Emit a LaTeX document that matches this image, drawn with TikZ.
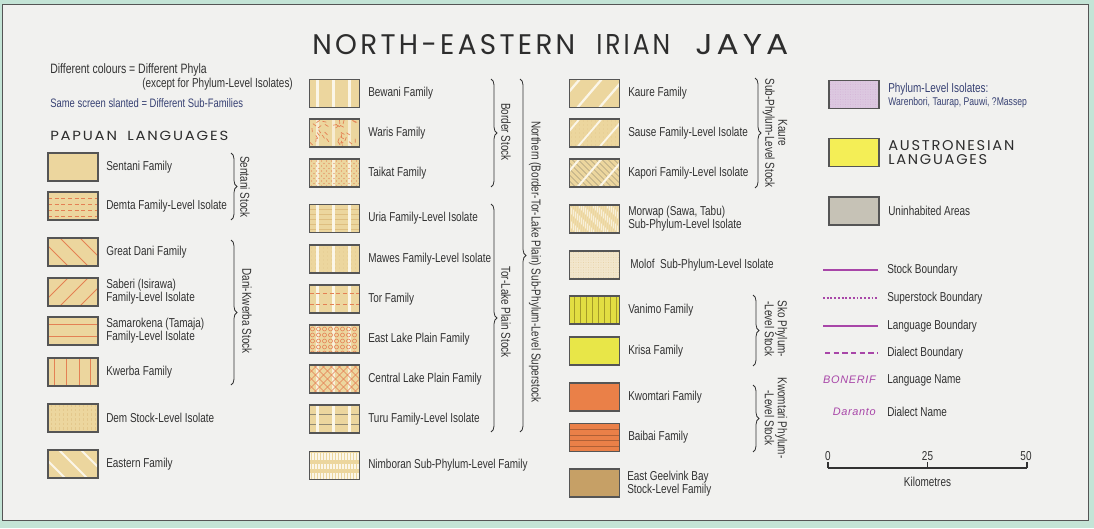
\documentclass[tikz,border=0pt]{standalone}
\usepackage{fontspec}
\setmainfont{Liberation Sans}[FakeStretch=0.77]
\newfontfamily\titlefont{Poppins}[LetterSpace=12]
\newfontfamily\namefont{Liberation Sans}[LetterSpace=6]
\usetikzlibrary{decorations.pathreplacing}
\definecolor{tanc}{RGB}{236,214,158}
\definecolor{orc}{RGB}{228,128,84}
\definecolor{stripec}{RGB}{251,246,232}
\definecolor{swline}{RGB}{85,85,85}
\definecolor{txtc}{RGB}{50,50,50}
\definecolor{titc}{RGB}{45,45,45}
\definecolor{bluet}{RGB}{55,65,115}
\definecolor{purp}{RGB}{168,70,168}
\definecolor{yelc}{RGB}{226,222,66}
\definecolor{yeltwo}{RGB}{232,230,72}
\definecolor{austc}{RGB}{244,238,86}
\definecolor{kwoc}{RGB}{234,128,72}
\definecolor{geelc}{RGB}{198,160,102}
\definecolor{lilac}{RGB}{220,200,224}
\definecolor{greyc}{RGB}{198,194,182}
\definecolor{molofc}{RGB}{242,230,204}
\definecolor{panelc}{RGB}{241,241,239}
\definecolor{bgteal}{RGB}{196,228,214}
\definecolor{olivec}{RGB}{165,155,40}
\definecolor{demc}{RGB}{222,190,128}
\newcommand\lbl{\fontsize{9.7}{9.75}\selectfont}
\newcommand\smlbl{\fontsize{8.4}{9}\selectfont}
\newcommand\vstr[1][stripec]{\foreach \sx in {8,24,40}{\draw[#1, line width=1.8pt] (\sx,0) -- (\sx,28);}}
% swatch: name, x, y, fill colour, pattern code (local px coords, origin top-left, y down)
\newcommand\swatch[5]{%
  \node[swbox, fill=#4] (#1) at (#2,#3) {};
  \begin{scope}
    \clip (#1.north west) rectangle (#1.south east);
    \begin{scope}[shift={(#1.north west)}]#5\end{scope}
  \end{scope}
  \draw[swline, line width=0.8pt] (#1.north west) rectangle (#1.south east);}
\tikzset{
  txt/.style={anchor=west, inner sep=0pt, text=txtc, font=\lbl, align=left},
  rot/.style={rotate=-90, inner sep=0pt, text=txtc, font=\lbl, align=center},
  swbox/.style={minimum width=37.5pt, minimum height=21pt, inner sep=0pt, outer sep=0pt, rectangle},
  brace/.style={decorate, decoration={brace, amplitude=4.5pt}, draw=txtc, line width=0.6pt},
  bline/.style={draw=purp},
  head/.style={anchor=base west, inner sep=0pt, text=titc},
}
\begin{document}
\begin{tikzpicture}[x=0.75pt,y=-0.75pt]
\useasboundingbox (0,0) rectangle (1094,528);
\fill[bgteal] (0,0) rectangle (1094,528);
\filldraw[fill=panelc, draw=swline, line width=0.6pt] (2,4) rectangle (1088,520);

% title
\node[head] (t1) at (312,55) {\resizebox{197.25pt}{15pt}{\titlefont NORTH-EASTERN}};
\node[head] (t2) at (596,55) {\resizebox{55.5pt}{15pt}{\titlefont IRIAN}};
\node[head] (t3) at (695,55) {\resizebox{69.75pt}{15pt}{\titlefont JAYA}};

% notes
\node[txt, font=\fontsize{10.2}{10}\selectfont] (n1) at (50,70) {Different colours = Different Phyla};
\node[txt] (n2) at (142,84) {(except for Phylum-Level Isolates)};
\node[txt, text=bluet, font=\fontsize{9.2}{9}\selectfont] (n3) at (50,103) {Same screen slanted = Different Sub-Families};
\node[head] (h1) at (50,140) {\resizebox{133.5pt}{7pt}{\titlefont PAPUAN\hspace{0.7em}LANGUAGES}};

% ---------- column 1 ----------
\swatch{s11}{73}{167}{tanc}{}
\swatch{s12}{73}{206}{tanc}{\foreach \yy in {6,12,18,24}{\draw[orc, line width=0.5pt, dash pattern=on 3pt off 2pt] (0,\yy) -- (50,\yy);}}
\swatch{s13}{73}{252}{tanc}{\foreach \xx in {-28,-8,12,32}{\draw[orc, line width=0.55pt] (\xx,0) -- ++(28,28);}}
\swatch{s14}{73}{292}{tanc}{\foreach \xx in {-28,-8,12,32}{\draw[orc, line width=0.55pt] (\xx,28) -- ++(28,-28);}}
\swatch{s15}{73}{331}{tanc}{\foreach \yy in {7,19}{\draw[orc, line width=0.55pt] (0,\yy) -- (50,\yy);}}
\swatch{s16}{73}{372}{tanc}{\foreach \xx in {6,18,31,42}{\draw[orc, line width=0.55pt] (\xx,0) -- (\xx,28);}}
\swatch{s17}{73}{418}{tanc}{\foreach \xx in {3,7,...,50}{\draw[demc!60!tanc, line width=0.3pt, dash pattern=on 2pt off 1.5pt] (\xx,0) -- (\xx,28);}}
\swatch{s18}{73}{464}{tanc}{\foreach \xx in {-33,-11,11,33}{\draw[stripec, line width=1.5pt] (\xx,0) -- ++(28,28);}}

\node[txt] (l11) at (106,167) {Sentani Family};
\node[txt] (l12) at (106,206) {Demta Family-Level Isolate};
\node[txt] (l13) at (106,252) {Great Dani Family};
\node[txt] (l14) at (106,292) {Saberi (Isirawa)\\Family-Level Isolate};
\node[txt] (l15) at (106,331) {Samarokena (Tamaja)\\Family-Level Isolate};
\node[txt] (l16) at (106,372) {Kwerba Family};
\node[txt] (l17) at (106,418) {Dem Stock-Level Isolate};
\node[txt] (l18) at (106,464) {Eastern Family};

\coordinate (b1a) at (231,153); \coordinate (b1b) at (231,220);
\coordinate (b2a) at (231,240); \coordinate (b2b) at (231,385);
\draw[brace] (b1a) -- (b1b);
\draw[brace] (b2a) -- (b2b);
\node[rot] (r1) at (245,187) {Sentani Stock};
\node[rot] (r2) at (247,311) {Dani-Kwerba Stock};

% ---------- column 2 ----------
\swatch{s21}{334.5}{93.5}{tanc}{\vstr}
\swatch{s22}{334.5}{133}{tanc}{\vstr[stripec!70!tanc]\pgfmathsetseed{11}\foreach \k in {1,...,34}{\pgfmathsetmacro\ax{rnd*50}\pgfmathsetmacro\ay{rnd*28}\pgfmathsetmacro\aa{rnd*180}\draw[orc, line width=0.5pt] (\ax,\ay) -- ++(\aa:4);}}
\swatch{s23}{334.5}{173}{tanc}{\vstr[stripec!80!tanc]\foreach \xx in {2,7,...,50}{\foreach \yy in {2,7,...,28}{\fill[orc] (\xx,\yy) circle (0.45pt);}}\foreach \xx in {4.5,9.5,...,50}{\foreach \yy in {4.5,9.5,...,28}{\fill[orc] (\xx,\yy) circle (0.45pt);}}}
\swatch{s24}{334.5}{218.5}{tanc}{\foreach \yy in {5,10,...,25}{\draw[demc, line width=0.3pt] (0,\yy) -- (50,\yy);}\vstr}
\swatch{s25}{334.5}{259}{tanc}{\foreach \xx in {2,6,...,50}{\foreach \yy in {3,7,...,28}{\fill[demc] (\xx,\yy) circle (0.35pt);}}\vstr}
\swatch{s26}{334.5}{299}{tanc}{\vstr\foreach \yy in {8,19}{\draw[orc, line width=0.5pt, dash pattern=on 3pt off 2pt] (0,\yy) -- (50,\yy);}}
\swatch{s27}{334.5}{339}{tanc}{\vstr[stripec!80!tanc]\foreach \xx in {3,9,...,50}{\foreach \yy in {4,10,...,28}{\draw[orc, line width=0.45pt] (\xx,\yy) circle (1.5pt);}}}
\swatch{s28}{334.5}{379}{tanc}{\vstr[stripec!80!tanc]\foreach \xx in {-28,-20,...,50}{\draw[orc, line width=0.45pt] (\xx,0) -- ++(28,28); \draw[orc, line width=0.45pt] (\xx,28) -- ++(28,-28);}}
\swatch{s29}{334.5}{419}{tanc}{\foreach \yy in {9,19}{\draw[swline!60!tanc, line width=0.4pt] (0,\yy) -- (50,\yy);}\vstr}
\swatch{s210}{334.5}{465.5}{tanc}{\foreach \ya/\yb in {1/8,12/17,21/27}{\fill[stripec] (0,\ya) rectangle (50,\yb); \foreach \xx in {1.5,4.5,...,50}{\draw[tanc, line width=0.3pt] (\xx,\ya) -- (\xx,\yb);}}}

\node[txt] (l21) at (368,93.5) {Bewani Family};
\node[txt] (l22) at (368,133) {Waris Family};
\node[txt] (l23) at (368,173) {Taikat Family};
\node[txt] (l24) at (368,218.5) {Uria Family-Level Isolate};
\node[txt] (l25) at (368,259) {Mawes Family-Level Isolate};
\node[txt] (l26) at (368,299) {Tor Family};
\node[txt] (l27) at (368,339) {East Lake Plain Family};
\node[txt] (l28) at (368,379) {Central Lake Plain Family};
\node[txt] (l29) at (368,419) {Turu Family-Level Isolate};
\node[txt] (l210) at (368,465.5) {Nimboran Sub-Phylum-Level Family};

\coordinate (b3a) at (491,79); \coordinate (b3b) at (491,187);
\coordinate (b4a) at (491,204); \coordinate (b4b) at (491,432);
\coordinate (b5a) at (520,79); \coordinate (b5b) at (520,432);
\draw[brace] (b3a) -- (b3b);
\draw[brace] (b4a) -- (b4b);
\draw[brace] (b5a) -- (b5b);
\node[rot] (r3) at (506,132) {Border Stock};
\node[rot] (r4) at (506,312) {Tor-Lake Plain Stock};
\node[rot] (r5) at (535,262) {Northern (Border-Tor-Lake Plain) Sub-Phylum-Level Superstock};

% ---------- column 3 ----------
\swatch{s31}{594.5}{93.5}{tanc}{\foreach \xx in {-14,8,30,52}{\draw[stripec, line width=1.7pt] (\xx,28) -- ++(24,-28);}}
\swatch{s32}{594.5}{133}{tanc}{\foreach \xx in {2,6,...,50}{\foreach \yy in {2,6,...,28}{\fill[demc] (\xx,\yy) circle (0.35pt);}}\foreach \xx in {-14,8,30,52}{\draw[stripec, line width=1.4pt] (\xx,28) -- ++(24,-28);}}
\swatch{s33}{594.5}{173}{tanc}{\foreach \xx in {-28,-22,...,50}{\draw[swline!45!tanc, line width=0.35pt] (\xx,0) -- ++(28,28);}\foreach \xx in {-14,8,30,52}{\draw[stripec, line width=1.5pt] (\xx,28) -- ++(24,-28);}}
\swatch{s34}{594.5}{219}{tanc}{\foreach \xx in {-32,-18,...,50}{\draw[stripec!80!tanc, line width=3.6pt] (\xx,0) -- ++(28,28);}\foreach \xx in {1,3,...,50}{\draw[tanc!85!white, line width=0.2pt] (\xx,0) -- (\xx,28);}}
\swatch{s35}{594.5}{265}{molofc}{\foreach \xx in {1.5,4,...,50}{\foreach \yy in {1.5,4,...,28}{\fill[demc!70!molofc] (\xx,\yy) circle (0.35pt);}}}
\swatch{s36}{594.5}{310}{yelc}{\foreach \xx in {5,11,...,50}{\draw[olivec, line width=0.45pt] (\xx,0) -- (\xx,28);}}
\swatch{s37}{594.5}{351}{yeltwo}{}
\swatch{s38}{594.5}{397}{kwoc}{}
\swatch{s39}{594.5}{437.5}{kwoc}{\foreach \yy in {6,11.5,17,22.5}{\draw[kwoc!75!black, line width=0.35pt] (0,\yy) -- (50,\yy);}}
\swatch{s310}{594.5}{483}{geelc}{}

\node[txt] (l31) at (628,93.5) {Kaure Family};
\node[txt] (l32) at (628,133) {Sause Family-Level Isolate};
\node[txt] (l33) at (628,173) {Kapori Family-Level Isolate};
\node[txt] (l34) at (628,219) {Morwap (Sawa, Tabu)\\Sub-Phylum-Level Isolate};
\node[txt] (l35) at (630,265) {Molof\ \ Sub-Phylum-Level Isolate};
\node[txt] (l36) at (628,310) {Vanimo Family};
\node[txt] (l37) at (628,351) {Krisa Family};
\node[txt] (l38) at (628,397) {Kwomtari Family};
\node[txt] (l39) at (628,437.5) {Baibai Family};
\node[txt] (l310) at (627,484) {East Geelvink Bay\\Stock-Level Family};

\coordinate (b6a) at (755,78); \coordinate (b6b) at (755,188);
\coordinate (b7a) at (753,295); \coordinate (b7b) at (753,366);
\coordinate (b8a) at (753,385); \coordinate (b8b) at (753,452);
\draw[brace] (b6a) -- (b6b);
\draw[brace] (b7a) -- (b7b);
\draw[brace] (b8a) -- (b8b);
\node[rot] (r6) at (775,133) {Kaure\\Sub-Phylum-Level Stock};
\node[rot] (r7) at (776,329) {Sko Phylum-\\-Level Stock};
\node[rot] (r8) at (776,418) {Kwomtari Phylum-\\-Level Stock};

% ---------- column 4 ----------
\swatch{s41}{854}{94.5}{lilac}{\foreach \xx in {1.5,4,...,50}{\foreach \yy in {1.5,4,...,28}{\fill[lilac!80!purp] (\xx,\yy) circle (0.3pt);}}}
\swatch{s42}{854}{152.5}{austc}{}
\swatch{s43}{854}{211}{greyc}{}

\node[txt, text=bluet] (l41) at (888,89) {Phylum-Level Isolates:};
\node[txt, text=bluet, font=\smlbl] (l41b) at (888,103) {Warenbori, Taurap, Pauwi, ?Massep};
\node[head] (l42) at (888,150) {\resizebox{94.5pt}{7.5pt}{\titlefont AUSTRONESIAN}};
\node[head] (l42b) at (888,164.5) {\resizebox{74.25pt}{7.5pt}{\titlefont LANGUAGES}};
\node[txt] (l43) at (888,211) {Uninhabited Areas};

\coordinate (k1a) at (823,270); \coordinate (k1b) at (878,270);
\coordinate (k2a) at (823,298); \coordinate (k2b) at (878,298);
\coordinate (k3a) at (823,326); \coordinate (k3b) at (878,326);
\coordinate (k4a) at (825,353); \coordinate (k4b) at (878,353);
\draw[bline, line width=2pt] (k1a) -- (k1b);
\draw[bline, line width=1.6pt, dash pattern=on 1.4pt off 1.4pt] (k2a) -- (k2b);
\draw[bline, line width=0.8pt] (k3a) -- (k3b);
\draw[bline, line width=0.8pt, dash pattern=on 4pt off 2.5pt] (k4a) -- (k4b);
\node[txt] (l44) at (887,270) {Stock Boundary};
\node[txt] (l45) at (887,298) {Superstock Boundary};
\node[txt] (l46) at (887,326) {Language Boundary};
\node[txt] (l47) at (887,353) {Dialect Boundary};
\node[anchor=east, inner sep=0pt, text=purp, font=\namefont\itshape\fontsize{8.2}{9}\selectfont] (m1) at (876,380) {BONERIF};
\node[txt] (l48) at (887,380) {Language Name};
\node[anchor=east, inner sep=0pt, text=purp, font=\namefont\itshape\fontsize{8.2}{9}\selectfont] (m2) at (876,412) {Daranto};
\node[txt] (l49) at (887,412) {Dialect Name};

% scale bar
\coordinate (z0) at (828,468); \coordinate (z1) at (927.5,468); \coordinate (z2) at (1027,468);
\draw[txtc, line width=1.4pt] (z0) -- (z2);
\draw[txtc, line width=0.8pt] (z0) -- ++(0,-6);
\draw[txtc, line width=0.8pt] (z1) -- ++(0,-6);
\draw[txtc, line width=0.8pt] (z2) -- ++(0,-6);
\node[txtc, font=\lbl, inner sep=0pt] (q0) at (828,456) {0};
\node[txtc, font=\lbl, inner sep=0pt] (q1) at (927.5,456) {25};
\node[txtc, font=\lbl, inner sep=0pt] (q2) at (1026,456) {50};
\node[txtc, font=\lbl, inner sep=0pt] (q3) at (927.5,482) {Kilometres};
\end{tikzpicture}
\end{document}
